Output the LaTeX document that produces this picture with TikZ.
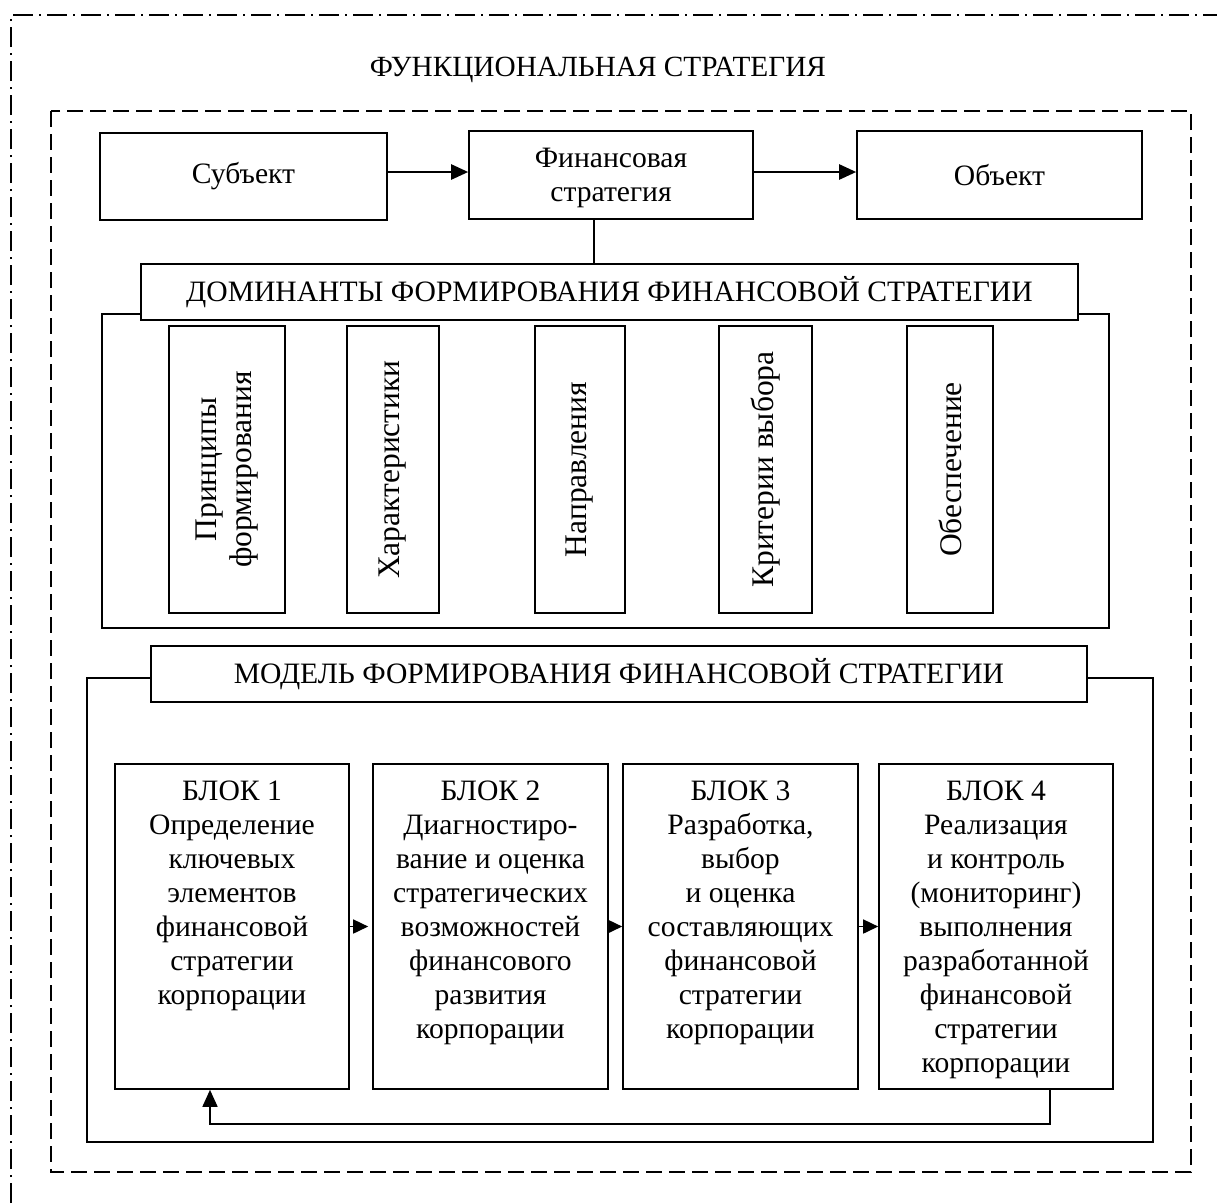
\documentclass[tikz,border=0pt]{standalone}
\usepackage{fontspec}
\setmainfont{Liberation Serif}
\usetikzlibrary{arrows.meta}
\tikzset{
  box/.style={draw, line width=1.6pt, fill=white, inner sep=0pt, align=center, font=\fontsize{29.6}{34}\selectfont},
  hdr/.style={box, font=\fontsize{29.6}{34}\selectfont},
  txt/.style={inner sep=0pt, align=center, font=\fontsize{29.6}{34}\selectfont},
  vtxt/.style={txt, rotate=90, font=\fontsize{31.5}{35}\selectfont},
  arr/.style={line width=2.4pt, -{Triangle[length=17pt,width=15pt]}},
  sarr/.style={line width=1.6pt, -{Triangle[length=15pt,width=14pt]}},
  frame/.style={line width=1.8pt, dash pattern=on 16pt off 7pt},
  outer/.style={line width=1.8pt, dash pattern=on 20pt off 6pt on 2pt off 6pt},
}
\begin{document}
\begin{tikzpicture}[x=1pt,y=-1pt]
\useasboundingbox (0,0) rectangle (1217,1203);
% outer dash-dot frame
\draw[outer] (11,1203) -- (11,15) -- (1217,15);
\node[txt, font=\fontsize{29.3}{34}\selectfont] (title) at (598,70) {ФУНКЦИОНАЛЬНАЯ СТРАТЕГИЯ};
% dashed frame
\draw[frame] (51,111) rectangle (1191,1172);
% top row
\node[box, minimum width=287pt, minimum height=87pt] (subj) at (243.5,176.5) {Субъект};
\node[box, minimum width=284pt, minimum height=88pt] (fin) at (611,175) {};
\node[txt] (fint) at (611,178) {Финансовая\\стратегия};
\node[box, minimum width=285pt, minimum height=88pt] (obj) at (999.5,175) {Объект};
\coordinate (ay) at (0,172);
\draw[arr] (subj.east |- ay) -- (fin.west |- ay);
\draw[arr] (fin.east |- ay) -- (obj.west |- ay);
% dominants
\node[box, minimum width=1007pt, minimum height=314pt] (domb) at (605.5,471) {};
\node[hdr, minimum width=937pt, minimum height=56pt] (dom) at (609.5,292) {ДОМИНАНТЫ ФОРМИРОВАНИЯ ФИНАНСОВОЙ СТРАТЕГИИ};
\coordinate (lx) at (594,0);
\draw[line width=1.6pt] (fin.south -| lx) -- (dom.north -| lx);
\node[box, minimum width=116pt, minimum height=287pt] (d1) at (227,469.5) {};
\node[box, minimum width=92pt, minimum height=287pt] (d2) at (393,469.5) {};
\node[box, minimum width=90pt, minimum height=287pt] (d3) at (580,469.5) {};
\node[box, minimum width=93pt, minimum height=287pt] (d4) at (765.5,469.5) {};
\node[box, minimum width=86pt, minimum height=287pt] (d5) at (950,469.5) {};
\node[vtxt] (v1) at (d1) {Принципы\\формирования};
\node[vtxt] (v2) at (d2) {Характеристики};
\node[vtxt] (v3) at (d3) {Направления};
\node[vtxt] (v4) at (d4) {Критерии выбора};
\node[vtxt] (v5) at (d5) {Обеспечение};
% model
\node[box, minimum width=1066pt, minimum height=464pt] (modb) at (620,910) {};
\node[hdr, minimum width=936pt, minimum height=56pt] (mod) at (619,674) {МОДЕЛЬ ФОРМИРОВАНИЯ ФИНАНСОВОЙ СТРАТЕГИИ};
\node[box, minimum width=234pt, minimum height=325pt] (b1) at (232,926.5) {};
\node[box, minimum width=235pt, minimum height=325pt] (b2) at (490.5,926.5) {};
\node[box, minimum width=235pt, minimum height=325pt] (b3) at (740.5,926.5) {};
\node[box, minimum width=234pt, minimum height=325pt] (b4) at (996,926.5) {};
\node[txt, anchor=north] (t1) at (232,781) {БЛОК 1\\Определение\\ключевых\\элементов\\финансовой\\стратегии\\корпорации};
\node[txt, anchor=north] (t2) at (490.5,781) {БЛОК 2\\Диагностиро-\\вание и оценка\\стратегических\\возможностей\\финансового\\развития\\корпорации};
\node[txt, anchor=north] (t3) at (740.5,781) {БЛОК 3\\Разработка,\\выбор\\и оценка\\составляющих\\финансовой\\стратегии\\корпорации};
\node[txt, anchor=north] (t4) at (996,781) {БЛОК 4\\Реализация\\и контроль\\(мониторинг)\\выполнения\\разработанной\\финансовой\\стратегии\\корпорации};
\draw[sarr] (b1.east) -- ([xshift=-4pt]b2.west);
\draw[sarr] (b2.east) -- (b3.west);
\draw[sarr] (b3.east) -- (b4.west);
\coordinate (fa) at (1050,1124);
\coordinate (fb) at (210,1124);
\draw[line width=1.6pt, -{Triangle[length=17pt,width=15pt]}] (b4.south -| fa) -- (fa) -- (fb) -- (b1.south -| fb);
\end{tikzpicture}
\end{document}
